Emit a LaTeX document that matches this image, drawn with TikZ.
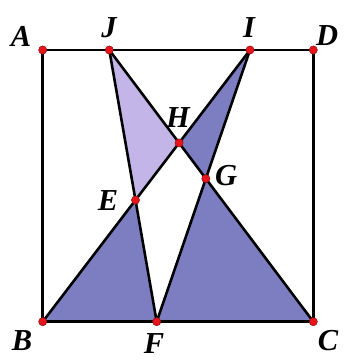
\documentclass[tikz,border=0pt]{standalone}
\usepackage{fontspec}
\setmainfont{Liberation Serif}
\usepackage{tikz}
\definecolor{lightfill}{HTML}{C4B5E8}
\definecolor{darkfill}{HTML}{7D7DC1}
\definecolor{ptred}{HTML}{E8141B}
\tikzset{
  edge/.style={line width=2.2pt, black},
  pt/.style={circle, fill=ptred, draw=ptred!60!black, line width=0.4pt, inner sep=0pt, minimum size=7pt},
  lbl/.style={font=\fontsize{26}{26}\selectfont\bfseries\itshape}
}
\begin{document}
\begin{tikzpicture}[x=0.03cm, y=-0.03cm]
  \useasboundingbox (0,0) rectangle (344,362);

  % Square corners
  \coordinate (A) at (42.7, 50);
  \coordinate (D) at (313.3, 50);
  \coordinate (B) at (42.7, 321.7);
  \coordinate (C) at (313.3, 321.7);
  % Points on the sides
  \coordinate (J) at (109.3, 50);
  \coordinate (I) at (250, 50);
  \coordinate (F) at (156.7, 321.7);
  % Crossings
  \coordinate (E) at (intersection of I--B and J--F);
  \coordinate (H) at (intersection of I--B and J--C);
  \coordinate (G) at (intersection of I--F and J--C);

  % Shaded triangles
  \fill[lightfill] (J) -- (H) -- (E) -- cycle;
  \fill[darkfill] (I) -- (H) -- (G) -- cycle;
  \fill[darkfill] (B) -- (E) -- (F) -- cycle;
  \fill[darkfill] (F) -- (G) -- (C) -- cycle;

  % Lines
  \draw[edge] (A) -- (B) -- (C) -- (D) -- cycle;
  \draw[edge] (J) -- (F);
  \draw[edge] (I) -- (B);
  \draw[edge] (J) -- (C);
  \draw[edge] (I) -- (F);

  % Points
  \foreach \p in {A,B,C,D,E,F,G,H,I,J}
    \node[pt] (dot\p) at (\p) {};

  % Labels
  \node[lbl] (labA) at (21, 36) {A};
  \node[lbl] (labJ) at (109, 28) {J};
  \node[lbl] (labI) at (249, 28) {I};
  \node[lbl] (labD) at (327, 36) {D};
  \node[lbl] (labH) at (178, 118) {H};
  \node[lbl] (labG) at (226, 176) {G};
  \node[lbl] (labE) at (108, 201) {E};
  \node[lbl] (labB) at (22, 341) {B};
  \node[lbl] (labF) at (154, 344) {F};
  \node[lbl] (labC) at (328, 341) {C};
\end{tikzpicture}
\end{document}
